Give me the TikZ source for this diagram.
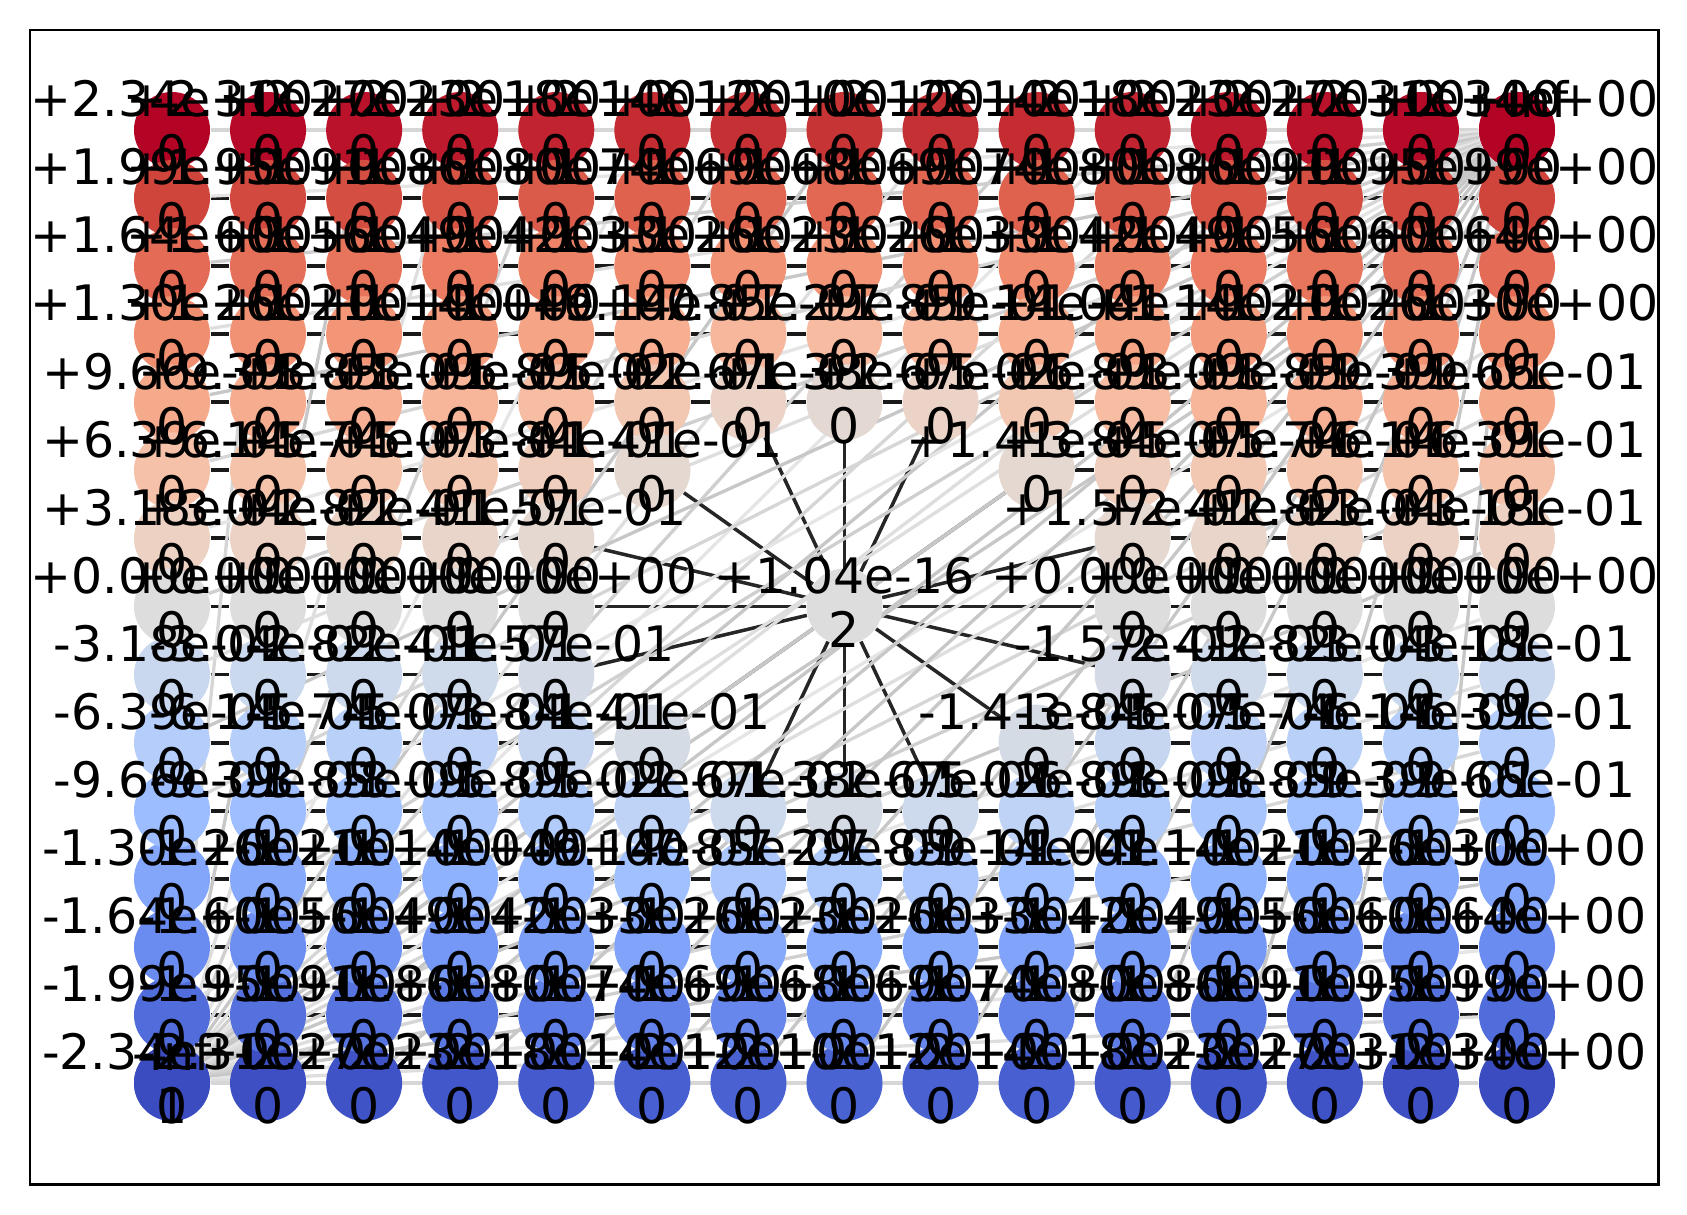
\documentclass[tikz,border=0pt]{standalone}
\usepackage{fontspec}
\setmainfont{DejaVu Sans}
\usetikzlibrary{calc}
\pgfdeclarelayer{edges}
\pgfsetlayers{edges,main}

% coolwarm table, 17 steps
\def\cwR{{59,77,98,119,141,163,184,204,221,236,245,247,244,236,222,203,180}}
\def\cwG{{76,104,130,154,176,194,208,217,221,211,196,177,154,127,96,62,4}}
\def\cwB{{192,215,234,247,254,255,249,238,221,197,172,148,123,99,77,56,38}}
\newcommand\cwfill[2]{%
  \pgfmathsetmacro\cwt{16*min(1,max(0,0.5+(#1)/4.68))}%
  \pgfmathtruncatemacro\cwi{min(15,int(\cwt))}%
  \pgfmathsetmacro\cwf{\cwt-\cwi}%
  \pgfmathtruncatemacro\cwr{round(\cwR[\cwi]+\cwf*(\cwR[\cwi+1]-\cwR[\cwi]))}%
  \pgfmathtruncatemacro\cwg{round(\cwG[\cwi]+\cwf*(\cwG[\cwi+1]-\cwG[\cwi]))}%
  \pgfmathtruncatemacro\cwb{round(\cwB[\cwi]+\cwf*(\cwB[\cwi+1]-\cwB[\cwi]))}%
  \definecolor{#2}{RGB}{\cwr,\cwg,\cwb}}

% upper half of the field (left half of each row), mirrored below
\def\toprows{%
0/{2.34/0,2.31/0,2.27/0,2.23/0,2.18/0,2.14/0,2.12/0,2.10/0},%
1/{1.99/0,1.95/0,1.91/0,1.86/0,1.80/0,1.74/0,1.69/0,1.68/0},%
2/{1.64/0,1.60/0,1.56/0,1.49/0,1.42/0,1.33/0,1.26/0,1.23/0},%
3/{1.30/0,1.26/0,1.21/0,1.14/0,1.04/0,9.14/-1,7.85/-1,7.29/-1},%
4/{9.66/-1,9.39/-1,8.85/-1,8.09/-1,6.89/-1,5.02/-1,2.67/-1,1.38/-1},%
5/{6.39/-1,6.14/-1,5.74/-1,5.07/-1,3.84/-1,1.41/-1},%
6/{3.18/-1,3.04/-1,2.82/-1,2.41/-1,1.57/-1}}

\definecolor{cwmid}{RGB}{221,221,221}
\definecolor{cwlow}{RGB}{59,76,192}
\definecolor{cwhigh}{RGB}{180,4,38}

\tikzset{
  cell/.style={circle, inner sep=0pt, minimum size=0.76cm, fill=#1},
  bond/.style={draw=black!90, line width=1.1pt},
  spoke/.style={draw=black!85, line width=1pt},
  ray/.style={draw=black!#1, line width=0.95pt},
  numtag/.style={inner sep=0pt, font=\fontsize{13.9pt}{16pt}\selectfont, yshift=0.31cm},
  idtag/.style={inner sep=0pt, font=\fontsize{13.9pt}{16pt}\selectfont, yshift=-0.23cm}
}

\begin{document}
\begin{tikzpicture}[x=0.01cm, y=-0.01cm]
\useasboundingbox (0,0) rectangle (1687,1215);
\draw[line width=0.85pt] (30,30) rectangle (1658,1184);
%
% grid cells
\foreach \r/\lst in \toprows {
  \foreach \m/\e [count=\k from 0] in \lst {
    \pgfmathtruncatemacro\kk{14-\k}
    \pgfmathtruncatemacro\rr{14-\r}
    \foreach \cc/\ro/\sn/\twin in {\k/\r/1/0,\kk/\r/1/1,\k/\rr/-1/0,\kk/\rr/-1/1} {
      \pgfmathtruncatemacro\drop{\twin*(\k==7)}
      \ifnum\drop=0
        \cwfill{\sn*\m*10^(\e)}{cc}
        \node[cell=cc] (n-\cc-\ro) at ({172+96.07*\cc},{130+68.07*\ro}) {};
      \fi
    }
  }
}
\foreach \c in {0,...,4,10,11,12,13,14}
  \node[cell=cwmid] (n-\c-7) at ({172+96.07*\c},{130+68.07*7}) {};
\node[cell=cwmid] (hub) at ({172+96.07*7},{130+68.07*7}) {};
\node[cell=cwlow] (lo) at (n-0-14) {};
\node[cell=cwhigh] (hi) at (n-14-0) {};
%
% value and id tags
\foreach \r/\lst in \toprows {
  \foreach \m/\e [count=\k from 0] in \lst {
    \pgfmathtruncatemacro\kk{14-\k}
    \pgfmathtruncatemacro\rr{14-\r}
    \ifnum\e=0 \def\ex{+00}\else\def\ex{-01}\fi
    \foreach \cc/\ro/\sg/\twin in {\k/\r/+/0,\kk/\r/+/1,\k/\rr/-/0,\kk/\rr/-/1} {
      \pgfmathtruncatemacro\drop{\twin*(\k==7)}
      \ifnum\drop=0
        \node[numtag] at (n-\cc-\ro) {\sg\m e\ex};
        \node[idtag] at (n-\cc-\ro) {0};
      \fi
    }
  }
}
\foreach \c in {0,...,4,10,11,12,13,14} {
  \node[numtag] at (n-\c-7) {+0.00e+00};
  \node[idtag] at (n-\c-7) {0};
}
\node[numtag] at (hub) {+1.04e-16};
\node[idtag] at (hub) {2};
\node[numtag] at (lo) {-inf};
\node[idtag] at (lo) {1};
\node[numtag] at (hi) {+inf};
%
% connectors, behind the cells
\begin{pgfonlayer}{edges}
\foreach \r in {0,...,14}
  \foreach \c in {0,...,13} {
    \pgfmathtruncatemacro\da{(\c-7)*(\c-7)+(\r-7)*(\r-7)}
    \pgfmathtruncatemacro\db{(\c-6)*(\c-6)+(\r-7)*(\r-7)}
    \pgfmathtruncatemacro\cn{\c+1}
    \ifnum\da>5 \ifnum\db>5
      \draw[bond] (n-\c-\r) -- (n-\cn-\r);
    \fi\fi
  }
\foreach \c/\r in {7/4,6/4,8/4,5/5,9/5,4/6,10/6,4/7,10/7,4/8,10/8,5/9,9/9,6/10,8/10,7/10}
  \draw[spoke] (hub) -- (n-\c-\r);
% rays from the two corner terminals to the rim cells
\foreach \r in {0,...,14}
  \foreach \c in {0,...,14} {
    \pgfmathtruncatemacro\rim{(\r==0)||(\r==14)||(\c==0)||(\c==14)}
    \pgfmathtruncatemacro\ga{10+3*mod(\c*7+\r*11,5)}
    \pgfmathtruncatemacro\gb{10+3*mod(\c*5+\r*3+2,5)}
    \ifnum\rim=1
      \ifnum\c\r=014 \else \draw[ray=\ga] (lo) -- (n-\c-\r); \fi
      \ifnum\c\r=140 \else \draw[ray=\gb] (hi) -- (n-\c-\r); \fi
    \fi
  }
\end{pgfonlayer}
\end{tikzpicture}
\end{document}
